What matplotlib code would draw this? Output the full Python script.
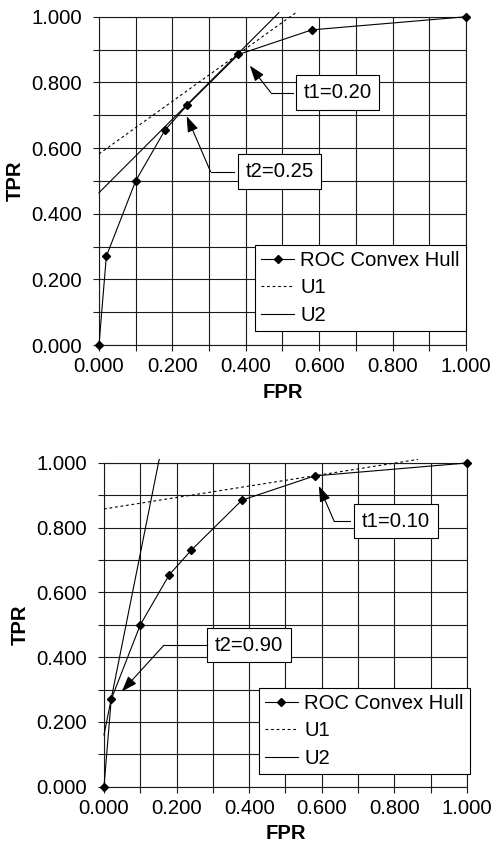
import matplotlib
matplotlib.use("Agg")
import matplotlib.pyplot as plt
from matplotlib.ticker import MultipleLocator, FormatStrFormatter

plt.rcParams['font.family'] = ['Liberation Sans', 'DejaVu Sans']
FS = 14.6

# ROC convex hull (same in both panels)
fpr = [0.0, 0.02, 0.10, 0.18, 0.24, 0.38, 0.58, 1.0]
tpr = [0.0, 0.27, 0.50, 0.655, 0.73, 0.885, 0.96, 1.0]

# Iso-utility lines, top panel
u1_top_x = [0.0, 0.536]
u1_top_y = [0.582, 1.012]
u2_top_x = [0.0, 0.49]
u2_top_y = [0.464, 1.012]
# Iso-utility lines, bottom panel
u1_bot_x = [0.0, 0.865]
u1_bot_y = [0.858, 1.011]
u2_bot_x = [0.0, 0.152]
u2_bot_y = [0.16, 1.011]

top_labels = ["t1=0.20", "t2=0.25"]
bot_labels = ["t1=0.10", "t2=0.90"]

fig = plt.figure(figsize=(4.91, 8.58), dpi=100)
ax1 = fig.add_axes([0.2016, 0.5979, 0.7475, 0.3826])
ax2 = fig.add_axes([0.2118, 0.0831, 0.7393, 0.3773])


def style(ax):
    ax.set_xlim(0, 1)
    ax.set_ylim(0, 1)
    ax.xaxis.set_major_locator(MultipleLocator(0.2))
    ax.yaxis.set_major_locator(MultipleLocator(0.2))
    ax.xaxis.set_minor_locator(MultipleLocator(0.1))
    ax.yaxis.set_minor_locator(MultipleLocator(0.1))
    ax.xaxis.set_major_formatter(FormatStrFormatter('%.3f'))
    ax.yaxis.set_major_formatter(FormatStrFormatter('%.3f'))
    ax.grid(True, which='both', color='#1a1a1a', lw=0.8)
    ax.set_axisbelow(True)
    ax.tick_params(which='both', direction='out', length=4.5, width=0.8, color='#1a1a1a')
    ax.tick_params(axis='y', which='major', pad=7.5, labelsize=FS)
    ax.tick_params(axis='x', which='major', pad=4, labelsize=FS)
    for s in ax.spines.values():
        s.set_color('#1a1a1a')
        s.set_linewidth(0.8)
    ax.set_xlabel('FPR', fontsize=FS, fontweight='bold', labelpad=5)
    ax.set_ylabel('TPR', fontsize=FS, fontweight='bold', labelpad=5)


def draw(ax, u1x, u1y, u2x, u2y, legend_anchor):
    style(ax)
    ax.plot(fpr, tpr, color='black', lw=0.8, marker='D', ms=4.5,
            label='ROC Convex Hull', clip_on=False, zorder=3)
    ax.plot(u1x, u1y, color='black', lw=0.8, ls=(0, (2.5, 2.5)),
            label='U1', clip_on=False, zorder=3)
    ax.plot(u2x, u2y, color='black', lw=0.8, ls='-',
            label='U2', clip_on=False, zorder=3)
    leg = ax.legend(loc='lower right', bbox_to_anchor=legend_anchor,
                    borderaxespad=0, fancybox=False, framealpha=1,
                    edgecolor='black', fontsize=FS, handlelength=1.65,
                    handletextpad=0.3, labelspacing=0.42, borderpad=0.3)
    leg.get_frame().set_linewidth(0.8)
    leg.set_zorder(5)


def callout(ax, text, center, box_left, elbow, tip):
    ax.plot([box_left, elbow[0]], [center[1], elbow[1]], color='black', lw=0.8, zorder=4)
    ax.annotate('', xy=tip, xytext=elbow,
                arrowprops=dict(arrowstyle='-|>,head_length=0.8,head_width=0.28',
                                color='black', lw=0.8,
                                mutation_scale=12, shrinkA=0, shrinkB=0),
                zorder=4)
    ax.text(center[0], center[1], text, ha='center', va='center', fontsize=FS,
            zorder=6,
            bbox=dict(boxstyle='square,pad=0.38', fc='white', ec='black', lw=0.8))


draw(ax1, u1_top_x, u1_top_y, u2_top_x, u2_top_y, (1.0, 0.043))
callout(ax1, top_labels[0], (0.650, 0.769), 0.528, (0.468, 0.769), (0.411, 0.851))
callout(ax1, top_labels[1], (0.492, 0.528), 0.369, (0.304, 0.528), (0.239, 0.697))

draw(ax2, u1_bot_x, u1_bot_y, u2_bot_x, u2_bot_y, (1.008, 0.039))
callout(ax2, bot_labels[0], (0.805, 0.82), 0.679, (0.634, 0.82), (0.592, 0.929))
callout(ax2, bot_labels[1], (0.400, 0.437), 0.282, (0.165, 0.437), (0.049, 0.294))

fig.savefig('out.png', dpi=100)
